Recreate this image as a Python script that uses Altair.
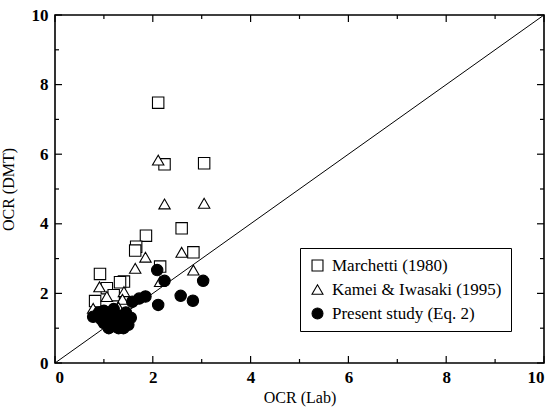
import altair as alt
import pandas as pd

# Marchetti (1980) - open squares
march_x = [2.11, 2.24, 3.05, 2.59, 1.86, 1.66, 1.64, 2.83, 2.15, 0.92, 1.41, 1.33, 1.06, 0.82, 1.20]
march_y = [7.48, 5.71, 5.74, 3.87, 3.66, 3.34, 3.23, 3.18, 2.77, 2.56, 2.34, 2.32, 2.15, 1.78, 1.95]

# Kamei & Iwasaki (1995) - open triangles
kamei_x = [2.11, 2.24, 3.05, 2.59, 1.85, 1.64, 2.83, 2.15, 0.91, 1.06, 1.41, 1.38, 0.78, 1.30]
kamei_y = [5.83, 4.57, 4.59, 3.18, 3.04, 2.72, 2.67, 2.34, 2.19, 1.91, 2.05, 1.83, 1.57, 1.60]

# Present study (Eq. 2) - filled circles
pres_x = [2.09, 2.24, 3.03, 2.57, 2.82, 2.11, 1.85, 1.72, 1.58, 0.78,
          0.90, 0.95, 1.00, 1.05, 1.10, 1.15, 1.20, 1.25, 1.30, 1.35,
          1.40, 1.45, 1.50, 1.20, 1.30, 1.10, 1.40, 1.55, 1.00]
pres_y = [2.67, 2.36, 2.36, 1.93, 1.79, 1.67, 1.91, 1.85, 1.76, 1.33,
          1.45, 1.25, 1.50, 1.30, 1.15, 1.40, 1.20, 1.05, 1.35, 1.15,
          1.25, 1.45, 1.10, 1.55, 1.00, 1.00, 1.00, 1.30, 1.15]

series = ["Marchetti (1980)", "Kamei & Iwasaki (1995)", "Present study (Eq. 2)"]
shapes = ["square", "triangle-up", "circle"]
fills = ["white", "white", "black"]
strokes = ["black", "black", "black"]

line_x = [0, 10]
line_y = [0, 10]

major_ticks = [0, 2, 4, 6, 8, 10]
minor_ticks = [1, 3, 5, 7, 9]
tick_labels = [0, 2, 4, 6, 8, 10]

rows = []
for name, xs, ys in zip(series, [march_x, kamei_x, pres_x], [march_y, kamei_y, pres_y]):
    for a, b in zip(xs, ys):
        rows.append({"x": a, "y": b, "s": name})
df = pd.DataFrame(rows)

W, H = 489, 348
font = "Liberation Serif"

xscale = alt.Scale(domain=[0, 10], nice=False)
yscale = alt.Scale(domain=[0, 10], nice=False)
xaxis = alt.Axis(values=tick_labels, title="OCR (Lab)", ticks=False, domain=False, grid=False,
                 labelFont=font, labelFontSize=17, labelFontWeight="bold", labelPadding=6,
                 titleFont=font, titleFontSize=16, titleFontWeight="normal", titlePadding=4,
                 labelColor="black", titleColor="black")
yaxis = alt.Axis(values=tick_labels, title="OCR (DMT)", ticks=False, domain=False, grid=False,
                 labelFont=font, labelFontSize=17, labelFontWeight="bold", labelPadding=7,
                 titleFont=font, titleFontSize=16, titleFontWeight="normal", titlePadding=15,
                 labelColor="black", titleColor="black")

X = alt.X("x:Q", scale=xscale, axis=xaxis)
Y = alt.Y("y:Q", scale=yscale, axis=yaxis)

diag = alt.Chart(pd.DataFrame({"x": line_x, "y": line_y})).mark_line(
    color="black", strokeWidth=1).encode(x=X, y=Y)

legend = alt.Legend(title=None, orient="none", legendX=245, legendY=233,
                    labelFont=font, labelFontSize=17, labelColor="black", labelLimit=400,
                    symbolSize=120, symbolStrokeWidth=1.1,
                    strokeColor="black", fillColor="white", padding=9, rowPadding=6,
                    labelOffset=6, offset=0)

pts = alt.Chart(df).mark_point(strokeWidth=1.1, size=130, opacity=1).encode(
    x=X, y=Y,
    shape=alt.Shape("s:N", scale=alt.Scale(domain=series, range=shapes), legend=legend, sort=series),
    fill=alt.Fill("s:N", scale=alt.Scale(domain=series, range=fills), legend=legend, sort=series),
    stroke=alt.Stroke("s:N", scale=alt.Scale(domain=series, range=strokes), legend=legend, sort=series),
)

maj = pd.DataFrame({"x": major_ticks, "y": major_ticks})
mnr = pd.DataFrame({"x": minor_ticks, "y": minor_ticks})

def tick_layers(d, L):
    b = alt.Chart(d).mark_rule(color="black", strokeWidth=1.2).encode(
        x=X, y=alt.value(H), y2=alt.value(H - L))
    t = alt.Chart(d).mark_rule(color="black", strokeWidth=1.2).encode(
        x=X, y=alt.value(0), y2=alt.value(L))
    l = alt.Chart(d).mark_rule(color="black", strokeWidth=1.2).encode(
        y=Y, x=alt.value(0), x2=alt.value(L))
    r = alt.Chart(d).mark_rule(color="black", strokeWidth=1.2).encode(
        y=Y, x=alt.value(W), x2=alt.value(W - L))
    return [b, t, l, r]

layers = [diag, pts] + tick_layers(maj, 7) + tick_layers(mnr, 4)

chart = alt.layer(*layers).properties(
    width=W, height=H,
    autosize=alt.AutoSizeParams(type="none"),
    padding={"left": 55, "top": 15, "right": 10, "bottom": 47},
    background="white",
).configure_view(stroke="black", strokeWidth=1.6)

chart.save("out.html", embed_options={"renderer": "svg", "actions": False})
